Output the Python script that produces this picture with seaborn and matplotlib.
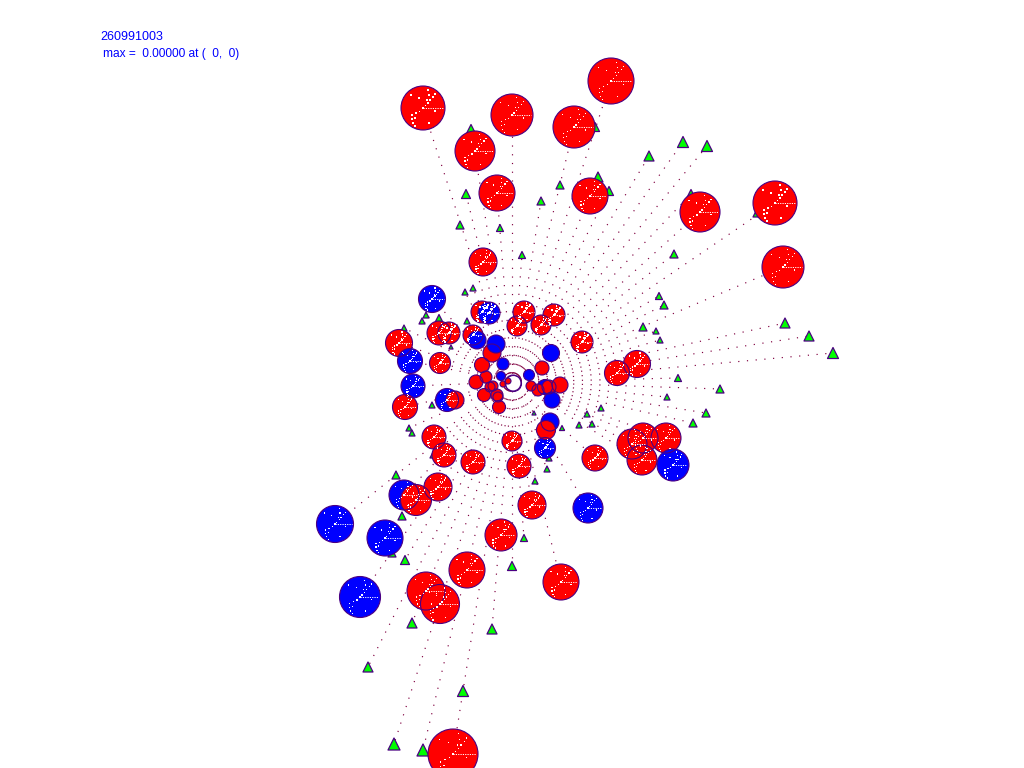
import math
import matplotlib
matplotlib.use("Agg")
import matplotlib.pyplot as plt
import seaborn as sns
import pandas as pd

# vertex
centre_x = 512
centre_y = 382

# event display values (pixels)
red_x = [423, 512, 611, 574, 475, 497, 590, 700, 775, 783, 483, 482, 524, 517, 541, 554, 582, 439, 449, 473,
         492, 399, 440, 482, 542, 486, 476, 405, 455, 493, 508, 503, 484, 497, 490, 498, 499, 531, 538, 549,
         560, 546, 512, 434, 444, 473, 519, 595, 617, 637, 632, 643, 642, 666, 416, 438, 532, 501, 467, 561,
         426, 440, 453]
red_y = [108, 115, 81, 127, 151, 193, 196, 212, 203, 267, 262, 312, 312, 326, 325, 315, 342, 333, 333, 335,
         353, 343, 363, 365, 368, 377, 382, 407, 400, 386, 381, 384, 395, 395, 387, 397, 407, 386, 390, 387,
         385, 430, 441, 437, 455, 462, 466, 458, 373, 364, 444, 438, 460, 438, 500, 487, 505, 535, 570, 582,
         591, 604, 754]
red_r = [22, 21, 23, 21, 20, 18, 18, 20, 22, 21, 14, 11, 11, 10, 10, 11, 11, 12, 11, 10,
         9, 13.5, 10.5, 7.5, 7, 6, 7, 12.5, 9, 5, 3, 3, 6.5, 6, 5, 5, 6.5, 5, 6, 7,
         8, 9.5, 10, 12, 12, 12, 12, 13, 12.5, 13.5, 15, 15, 15, 15, 15.5, 14, 14, 16, 18, 18,
         19, 19.5, 25]

# blue clusters that lie under the red ones
blue_under_x = [413, 447, 545, 550, 404, 545]
blue_under_y = [386, 400, 448, 422, 495, 387]
blue_under_r = [12, 11.5, 10.5, 9, 15, 7.5]

# blue clusters that lie on top of the red ones
blue_over_x = [432, 489, 477, 496, 551, 410, 503, 501, 529, 552, 673, 335, 385, 588, 360]
blue_over_y = [299, 313, 340, 344, 353, 361, 364, 376, 375, 400, 465, 524, 538, 508, 597]
blue_over_r = [13.5, 11, 9, 9, 8.5, 12.5, 6, 4.5, 5.5, 8, 16, 18.5, 18, 15, 20.5]

ring_x = [513]
ring_y = [383]
ring_r = [8]

tri_x = [471, 595, 649, 683, 707, 466, 560, 598, 609, 541, 691, 460, 522, 785, 809, 833, 664, 643, 720, 706,
         693, 465, 473, 426, 422, 439, 432, 409, 412, 592, 433, 547, 535, 396, 402, 392, 405, 412, 492, 463,
         394, 423, 500, 674, 757, 659, 467, 404, 656, 660, 678, 667, 601, 587, 579, 562, 534, 549, 524, 512,
         368, 451]
tri_y = [129, 127, 156, 142, 146, 194, 185, 177, 191, 201, 194, 225, 255, 323, 336, 353, 305, 327, 389, 413,
         423, 292, 288, 315, 321, 318, 405, 428, 433, 424, 455, 469, 481, 475, 516, 553, 560, 623, 629, 691,
         744, 750, 228, 254, 213, 296, 321, 328, 331, 340, 378, 397, 408, 414, 425, 428, 413, 458, 538, 566,
         667, 347]
tri_w = [9, 9, 10, 11, 11, 9, 8, 10, 9, 8, 9, 8, 7, 10, 10, 11, 8, 8, 8, 8,
         8, 6, 6, 6, 6, 7, 6, 6, 6, 6, 6, 6, 6, 8, 8, 8, 9, 10, 10, 11,
         12, 12, 7, 8, 8, 7, 6, 6, 6, 6, 7, 6, 6, 6, 6, 5, 4, 6, 7, 9,
         10, 4]

# white speck texture repeated in each cluster, as a fraction of its radius
speck_dx = [-.55, -.18, .23, .27, .45, .55, .18, .32, .23, -.5, -.36, -.5, -.32, -.45, -.36, .27, .55, 0, .1, -.15]
speck_dy = [-.59, -.45, -.82, -.59, -.5, -.64, -.36, -.36, -.23, .32, .45, .5, .23, .68, .82, .68, .14, 0, -.1, .15]

title_text = "260991003"
max_text = "max =  0.00000 at (  0,  0)"

dpi = 100
edge = "#4b0082"


def area(widths):
    # pixel width to scatter area in points^2
    return [(w * 72 / dpi) ** 2 for w in widths]


def blobs(xs, ys, rs, colour, z):
    sns.scatterplot(x=xs, y=ys, s=area([2 * r for r in rs]), color=colour, edgecolor="none",
                    linewidth=0, ax=ax, legend=False, zorder=z)


sns.set_theme(style="white")
plt.rcParams["font.family"] = ["Liberation Sans", "DejaVu Sans"]

fig, ax = plt.subplots(figsize=(10.24, 7.68), dpi=dpi)
ax.set_position([0, 0, 1, 1])

# dotted tracks out of the vertex, farthest mark first, only one track per direction
ends = list(zip(red_x + blue_under_x + blue_over_x + tri_x, red_y + blue_under_y + blue_over_y + tri_y))
ends.sort(key=lambda p: -math.hypot(p[0] - centre_x, p[1] - centre_y))
angles = []
rows = []
for x, y in ends:
    a = math.degrees(math.atan2(y - centre_y, x - centre_x))
    if any(abs((a - b + 180) % 360 - 180) < 3.0 for b in angles):
        continue
    track = len(angles)
    angles.append(a)
    rows.append({"track": track, "x": centre_x, "y": centre_y})
    rows.append({"track": track, "x": x, "y": y})
tracks = pd.DataFrame(rows)
sns.lineplot(data=tracks, x="x", y="y", units="track", estimator=None, sort=False, color="#800040",
             linewidth=0.85, linestyle=(0, (1, 6.4)), ax=ax, legend=False, zorder=1)

# nothing drawn inside the inner ring
ax.scatter(ring_x, ring_y, s=area([2 * r for r in ring_r]), facecolor="white", edgecolor=edge,
           linewidth=0.8, zorder=1.5)

# end triangles
sns.scatterplot(x=tri_x, y=tri_y, marker="^", s=area(tri_w), color="#00ff00", edgecolor=edge,
                linewidth=0.9, ax=ax, legend=False, zorder=2)

# clusters
blobs(blue_under_x, blue_under_y, blue_under_r, "#0000ff", 3)
blobs(red_x, red_y, red_r, "#ff0000", 3.1)
blobs(blue_over_x, blue_over_y, blue_over_r, "#0000ff", 3.2)

# cluster outlines stay visible through the overlaps
circles = pd.DataFrame({
    "x": red_x + blue_under_x + blue_over_x,
    "y": red_y + blue_under_y + blue_over_y,
    "r": red_r + blue_under_r + blue_over_r,
})
ax.scatter(circles["x"], circles["y"], s=area([2 * r for r in circles["r"]]), facecolor="none",
           edgecolor=edge, linewidth=0.8, zorder=4)
ax.scatter(ring_x, ring_y, s=area([2 * r for r in ring_r]), facecolor="none", edgecolor=edge,
           linewidth=0.8, zorder=4)

# white tick from the centre of each big cluster, and the specks
big = circles[circles["r"] >= 10]
ax.hlines(big["y"], big["x"], big["x"] + big["r"] * 0.9, color="white", linewidth=0.7,
          linestyle=(0, (1.2, 1.2)), zorder=5)
sx = []
sy = []
for x, y, r in zip(big["x"], big["y"], big["r"]):
    for dx, dy in zip(speck_dx, speck_dy):
        sx.append(x + dx * r)
        sy.append(y + dy * r)
ax.scatter(sx, sy, s=0.8, marker="s", facecolor="white", edgecolor="none", linewidth=0, zorder=5)

ax.text(100, 36.5, title_text, color="#0000ff", fontsize=9, va="center", ha="left")
ax.text(103, 54.5, max_text, color="#0000ff", fontsize=8.6, va="center", ha="left")

ax.set_xlim(0, 1024)
ax.set_ylim(768, 0)
ax.set_axis_off()

fig.savefig("out.png", dpi=dpi)
